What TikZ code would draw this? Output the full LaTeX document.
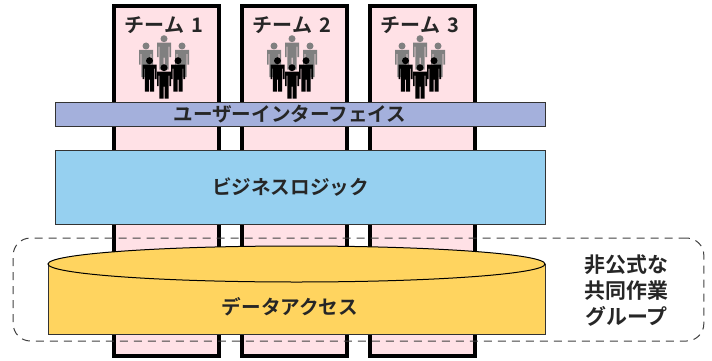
\documentclass[tikz,border=0pt]{standalone}
\usepackage{fontspec}
\setmainfont[BoldFont={Noto Sans CJK JP Bold}]{Noto Sans CJK JP}
\usetikzlibrary{shapes.geometric}

\definecolor{teampink}{HTML}{FFE1E6}
\definecolor{uiblue}{HTML}{A4B0DC}
\definecolor{logicblue}{HTML}{96D0F0}
\definecolor{datayellow}{HTML}{FFD45F}
\definecolor{textgray}{HTML}{262626}

\begin{document}
\begin{tikzpicture}[x=0.75pt,y=-0.75pt]
\tikzstyle{team-column}=
[
	draw, rectangle, fill=teampink, line width=3pt,
	minimum width=78.75pt, minimum height=262.5pt
]
\tikzstyle{layer-bar}=
[
	draw=black!80, rectangle, line width=0.75pt,
	minimum width=367.5pt
]
\tikzstyle{caption}=
[
	font=\fontsize{14.7pt}{19.2pt}\selectfont\bfseries, text=textgray, inner sep=0pt
]
\tikzset{
	person/.pic={
		\fill (0,0) circle (3.5);
		\fill (-7,4) -- (7,4) -- (7,18.5) -- (5.4,18.5) -- (5.4,8) -- (4.6,8)
			-- (4.6,31) -- (0.5,31) -- (0.5,19) -- (-0.5,19) -- (-0.5,31)
			-- (-4.6,31) -- (-4.6,8) -- (-5.4,8) -- (-5.4,18.5) -- (-7,18.5) -- cycle;
	}
}

\useasboundingbox (0,0) rectangle (712,360);

% teams
\foreach \n/\x in {1/166.5,2/294.5,3/422.5}
{
	\node[team-column] (team\n) at (\x,181) {};
	\node[caption, font=\fontsize{15pt}{19.2pt}\selectfont\bfseries] (title\n) at (\x-2.5,25) {チーム\hspace{0.35em}\n};
	\begin{scope}[shift={(\x-2.5,0)}]
		\pic[gray] at (-18,46) {person};
		\pic[gray] at (0,38.7) {person};
		\pic[gray] at (18,46) {person};
		\pic[black] at (-14.5,60.7) {person};
		\pic[black] at (0,67.7) {person};
		\pic[black] at (14,60.7) {person};
	\end{scope}
}

% informal group
\node[draw=black!75, dashed, dash pattern=on 6pt off 4.5pt, rounded corners=13pt, rectangle,
	line width=0.75pt, minimum width=518pt, minimum height=77.25pt] (group) at (358.5,289.5) {};
\node[caption, font=\fontsize{15.7pt}{19.2pt}\selectfont\bfseries, align=center] (grouplabel) at (626.5,290.5) {非公式な\\共同作業\\グループ};

% layers
\node[layer-bar, fill=uiblue, minimum height=18pt] (ui) at (300,114) {};
\node[caption] (uilabel) at (290,114) {ユーザーインターフェイス};
\node[layer-bar, fill=logicblue, minimum height=55.5pt] (logic) at (300,187) {};
\node[caption] (logiclabel) at (290.5,187.5) {ビジネスロジック};

\node[layer-bar, fill=datayellow, minimum width=372.75pt, minimum height=52.5pt] (data) at (296.5,299) {};
\node[ellipse, draw=black, fill=datayellow, line width=0.75pt, inner sep=0pt,
	minimum width=372.75pt, minimum height=27pt] (datatop) at (296.5,264) {};
\node[caption] (datalabel) at (290,307) {データアクセス};
\end{tikzpicture}
\end{document}
